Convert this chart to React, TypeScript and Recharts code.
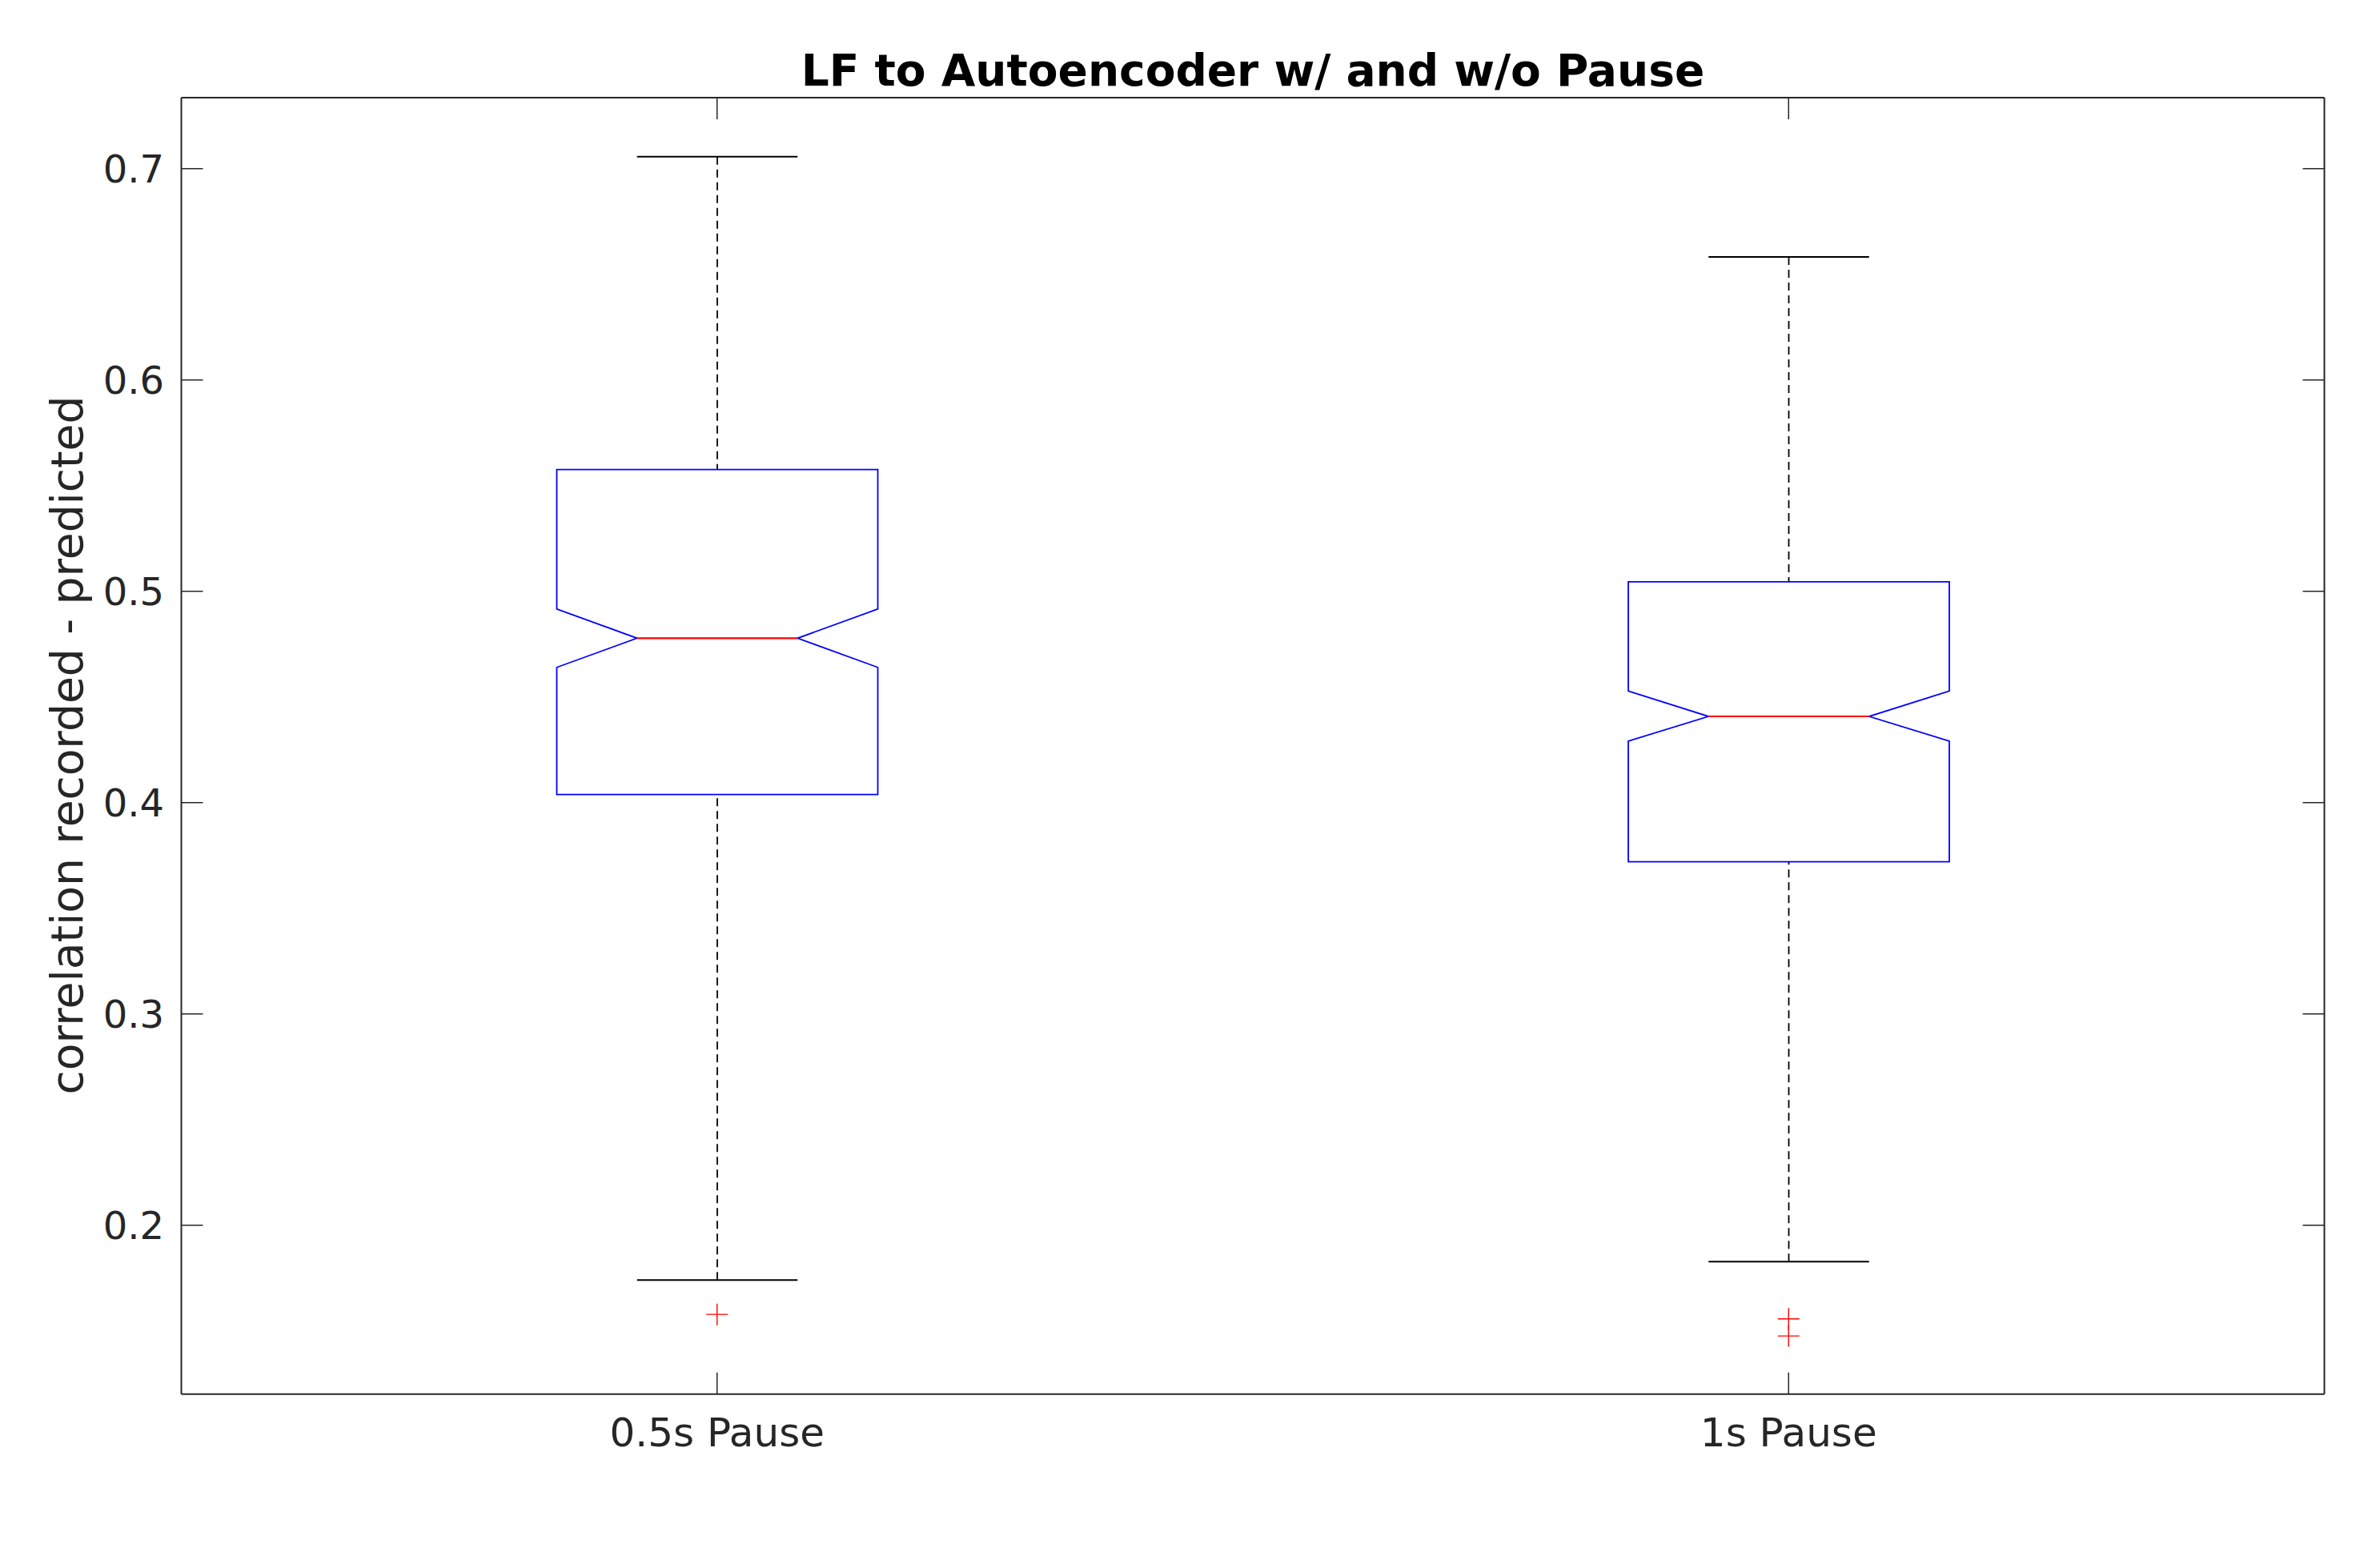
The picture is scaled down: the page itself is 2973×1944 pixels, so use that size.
import React from 'react';
import { ComposedChart, Bar, Line, XAxis, YAxis } from 'recharts';

const categories = ['0.5s Pause', '1s Pause'];
const lowerWhisker = [0.1741, 0.1828];
const q1 = [0.4038, 0.372];
const median = [0.4778, 0.4408];
const q3 = [0.5576, 0.5045];
const upperWhisker = [0.7057, 0.6582];
const notchLow = [0.464, 0.4291];
const notchHigh = [0.4916, 0.4528];
const outliers = [[0.1578], [0.1557, 0.1476]];
const yTicks = [0.2, 0.3, 0.4, 0.5, 0.6, 0.7];
const yDomain = [0.1201, 0.7336];

const title = 'LF to Autoencoder w/ and w/o Pause';
const yLabel = 'correlation recorded - predicted';

const data = categories.map((name, i) => ({
  name,
  range: [lowerWhisker[i], upperWhisker[i]],
  lw: lowerWhisker[i],
  q1: q1[i],
  med: median[i],
  q3: q3[i],
  uw: upperWhisker[i],
  nlo: notchLow[i],
  nhi: notchHigh[i],
  o1: outliers[i][0] ?? null,
  o2: outliers[i][1] ?? null,
}));

const W = 2973;
const H = 1944;
const FONT = 'DejaVu Sans';
const AXIS_COLOR = '#262626';

const BoxShape = (props: any) => {
  const { x, y, width, height, payload } = props;
  if (payload == null || !isFinite(x) || !isFinite(y)) return <g />;
  const top = Math.min(y, y + height);
  const bot = Math.max(y, y + height);
  const lo = payload.lw;
  const hi = payload.uw;
  const py = (v: number) => bot - ((v - lo) / (hi - lo)) * (bot - top);
  const x0 = x;
  const x1 = x + width;
  const cx = x + width / 2;
  const nd = width / 4;
  const cap = width / 4;
  const yQ1 = py(payload.q1);
  const yQ3 = py(payload.q3);
  const yMed = py(payload.med);
  const yNlo = py(payload.nlo);
  const yNhi = py(payload.nhi);
  const yHi = py(hi);
  const yLo = py(lo);
  const pts = [
    [x0, yQ3],
    [x0, yNhi],
    [x0 + nd, yMed],
    [x0, yNlo],
    [x0, yQ1],
    [x1, yQ1],
    [x1, yNlo],
    [x1 - nd, yMed],
    [x1, yNhi],
    [x1, yQ3],
  ]
    .map((p) => p.join(','))
    .join(' ');
  return (
    <g>
      <line x1={cx} x2={cx} y1={yHi} y2={yQ3} stroke="#000" strokeWidth={1.8} strokeDasharray="10 6" />
      <line x1={cx} x2={cx} y1={yLo} y2={yQ1} stroke="#000" strokeWidth={1.8} strokeDasharray="10 6" />
      <line x1={cx - cap} x2={cx + cap} y1={yHi} y2={yHi} stroke="#000" strokeWidth={2} />
      <line x1={cx - cap} x2={cx + cap} y1={yLo} y2={yLo} stroke="#000" strokeWidth={2} />
      <polygon points={pts} fill="none" stroke="#0000ff" strokeWidth={1.8} />
      <line x1={x0 + nd} x2={x1 - nd} y1={yMed} y2={yMed} stroke="#ff0000" strokeWidth={2.2} />
    </g>
  );
};

const PlusDot = (props: any) => {
  const { cx, cy, value, index } = props;
  if (value == null || cy == null || !isFinite(cy)) return <g key={`e-${index}`} />;
  const s = 13.5;
  return (
    <g key={`p-${index}`}>
      <line x1={cx - s} x2={cx + s} y1={cy} y2={cy} stroke="#ff0000" strokeWidth={1.4} />
      <line x1={cx} x2={cx} y1={cy - s} y2={cy + s} stroke="#ff0000" strokeWidth={1.4} />
    </g>
  );
};

const EmptyTick = () => <g />;

const yTickStyle = { fontFamily: FONT, fontSize: 48, fill: AXIS_COLOR };
const xTickStyle = { fontFamily: FONT, fontSize: 50, fill: AXIS_COLOR };

export default function App() {
  return (
    <div style={{ position: 'absolute', left: 0, top: 0, width: W, height: H, background: '#fff' }}>
      <ComposedChart width={W} height={H} data={data} margin={{ top: 0, right: 0, bottom: 0, left: 0 }}>
        <XAxis
          dataKey="name"
          xAxisId="bottom"
          orientation="bottom"
          height={202.3}
          tickSize={-27}
          tickMargin={56.5}
          tick={xTickStyle}
          axisLine={{ stroke: AXIS_COLOR, strokeWidth: 2 }}
          tickLine={{ stroke: AXIS_COLOR, strokeWidth: 1.5 }}
          interval={0}
        />
        <XAxis
          dataKey="name"
          xAxisId="top"
          orientation="top"
          height={122}
          tickSize={-27}
          tick={EmptyTick}
          axisLine={{ stroke: AXIS_COLOR, strokeWidth: 2 }}
          tickLine={{ stroke: AXIS_COLOR, strokeWidth: 1.5 }}
          interval={0}
        />
        <YAxis
          yAxisId="left"
          orientation="left"
          type="number"
          width={226.5}
          domain={yDomain}
          ticks={yTicks}
          allowDataOverflow
          tickSize={-27}
          tickMargin={48.5}
          tick={yTickStyle}
          tickFormatter={(v: number) => v.toFixed(1)}
          axisLine={{ stroke: AXIS_COLOR, strokeWidth: 2 }}
          tickLine={{ stroke: AXIS_COLOR, strokeWidth: 1.5 }}
          interval={0}
        />
        <YAxis
          yAxisId="right"
          orientation="right"
          type="number"
          width={69.5}
          domain={yDomain}
          ticks={yTicks}
          allowDataOverflow
          tickSize={-27}
          tick={EmptyTick}
          axisLine={{ stroke: AXIS_COLOR, strokeWidth: 2 }}
          tickLine={{ stroke: AXIS_COLOR, strokeWidth: 1.5 }}
          interval={0}
        />
        <Bar
          dataKey="range"
          xAxisId="bottom"
          yAxisId="left"
          barSize={401}
          shape={BoxShape}
          isAnimationActive={false}
        />
        <Line
          dataKey="o1"
          xAxisId="bottom"
          yAxisId="left"
          stroke="none"
          dot={PlusDot}
          activeDot={false}
          isAnimationActive={false}
        />
        <Line
          dataKey="o2"
          xAxisId="bottom"
          yAxisId="left"
          stroke="none"
          dot={PlusDot}
          activeDot={false}
          isAnimationActive={false}
        />
      </ComposedChart>
      <svg
        width={W}
        height={H}
        style={{ position: 'absolute', left: 0, top: 0, pointerEvents: 'none' }}
      >
        <text
          x={1565}
          y={106.7}
          textAnchor="middle"
          fontFamily={FONT}
          fontWeight="bold"
          fontSize={55}
          fill="#000"
        >
          {title}
        </text>
        <text
          x={102.5}
          y={931}
          transform="rotate(-90 102.5 931)"
          textAnchor="middle"
          fontFamily={FONT}
          fontSize={55}
          fill={AXIS_COLOR}
        >
          {yLabel}
        </text>
      </svg>
    </div>
  );
}
